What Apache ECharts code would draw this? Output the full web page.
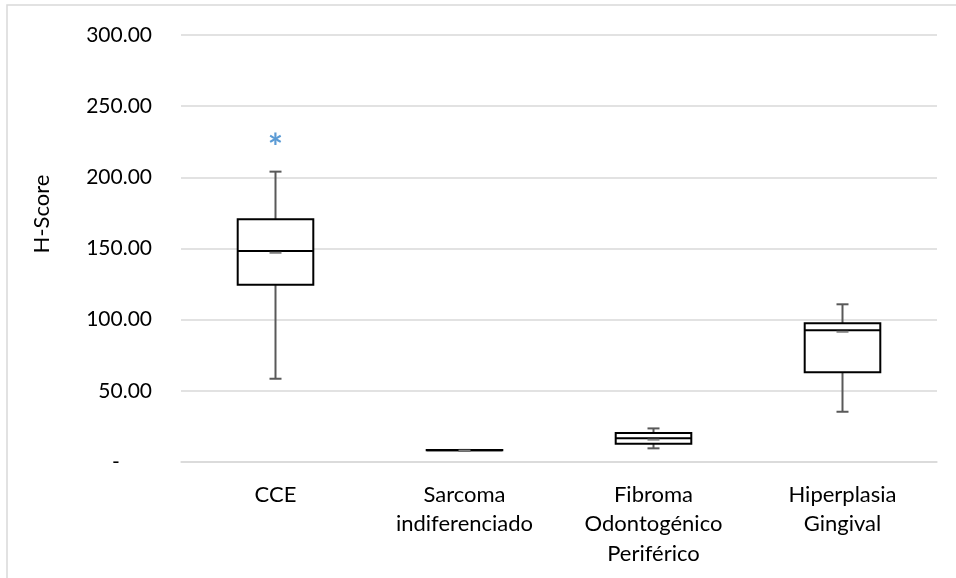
<!DOCTYPE html>
<html>
<head>
<meta charset="utf-8">
<script src="https://cdn.jsdelivr.net/npm/echarts@6/dist/echarts.min.js"></script>
<style>
  html, body { margin: 0; padding: 0; background: #fff; }
  #main { width: 956px; height: 578px; }
</style>
</head>
<body>
<div id="main"></div>
<script>
// categorias y valores
var categories = ['CCE', 'Sarcoma\nindiferenciado', 'Fibroma\nOdontogénico\nPeriférico', 'Hiperplasia\nGingival'];
var mins    = [58.5, 8.0, 9.6, 35.3];
var q1s     = [124.6, 8.2, 12.9, 63.0];
var medians = [148.2, 8.3, 16.6, 92.5];
var q3s     = [170.5, 8.4, 20.4, 97.4];
var maxs    = [204.0, 8.5, 23.6, 110.8];
var means   = [147.0, 8.0, 15.7, 91.5];
var outliers = [[0, 224.3]];

var font = 'Lato, sans-serif';

var boxData = categories.map(function (c, i) {
    return [i, mins[i], q1s[i], medians[i], q3s[i], maxs[i], means[i]];
});

var myChart = echarts.init(document.getElementById('main'));

function renderBox(params, api) {
    var idx = api.value(0);
    var pMin = api.coord([idx, api.value(1)]);
    var pQ1 = api.coord([idx, api.value(2)]);
    var pMed = api.coord([idx, api.value(3)]);
    var pQ3 = api.coord([idx, api.value(4)]);
    var pMax = api.coord([idx, api.value(5)]);
    var pMean = api.coord([idx, api.value(6)]);
    var x = pMed[0];
    var halfW = api.size([1, 0])[0] * 0.2;
    var capW = 6;
    var gray = { stroke: '#595959', lineWidth: 2 };
    return {
        type: 'group',
        children: [
            { type: 'line', shape: { x1: x, y1: pQ3[1], x2: x, y2: pMax[1] }, style: gray },
            { type: 'line', shape: { x1: x - capW, y1: pMax[1], x2: x + capW, y2: pMax[1] }, style: gray },
            { type: 'line', shape: { x1: x, y1: pQ1[1], x2: x, y2: pMin[1] }, style: gray },
            { type: 'line', shape: { x1: x - capW, y1: pMin[1], x2: x + capW, y2: pMin[1] }, style: gray },
            {
                type: 'rect',
                shape: { x: x - halfW, y: pQ3[1], width: halfW * 2, height: pQ1[1] - pQ3[1] },
                style: { fill: '#fff', stroke: '#000', lineWidth: 2 }
            },
            { type: 'line', shape: { x1: x - halfW, y1: pMed[1], x2: x + halfW, y2: pMed[1] }, style: { stroke: '#000', lineWidth: 2 } },
            { type: 'line', shape: { x1: x - capW, y1: pMean[1], x2: x + capW, y2: pMean[1] }, style: { stroke: '#7f7f7f', lineWidth: 2 } }
        ]
    };
}

function renderOutlier(params, api) {
    var p = api.coord([api.value(0), api.value(1)]);
    return {
        type: 'text',
        x: p[0],
        y: p[1] + 6,
        style: {
            text: '*',
            fill: '#5B9BD5',
            font: 'bold 36px ' + font,
            align: 'center',
            verticalAlign: 'middle'
        }
    };
}

myChart.setOption({
    animation: false,
    backgroundColor: '#fff',
    grid: {
        left: 181,
        right: 19,
        top: 35,
        bottom: 116
    },
    graphic: [
        {
            type: 'rect',
            shape: { x: 7, y: 5, width: 1000, height: 1000 },
            style: { fill: 'none', stroke: '#d9d9d9', lineWidth: 1.5 },
            silent: true
        },
        {
            type: 'text',
            x: 42,
            y: 214,
            rotation: Math.PI / 2,
            style: {
                text: 'H-Score',
                font: '22px ' + font,
                fill: '#000',
                align: 'center',
                verticalAlign: 'middle'
            }
        }
    ],
    xAxis: {
        type: 'category',
        data: categories,
        axisLine: { lineStyle: { color: '#d9d9d9', width: 1.5 } },
        axisTick: { show: false },
        axisLabel: {
            color: '#000',
            fontFamily: 'Lato',
            fontSize: 22,
            lineHeight: 29.5,
            margin: 18,
            verticalAlign: 'top'
        }
    },
    yAxis: {
        type: 'value',
        min: 0,
        max: 300,
        interval: 50,
        axisLine: { show: false },
        axisTick: { show: false },
        splitLine: { lineStyle: { color: '#d9d9d9', width: 1.5 } },
        axisLabel: {
            color: '#000',
            fontFamily: 'Lato',
            fontSize: 21,
            margin: 29,
            formatter: function (v) {
                return v === 0 ? '-      ' : v.toFixed(2);
            }
        }
    },
    series: [
        {
            type: 'custom',
            renderItem: renderBox,
            data: boxData,
            encode: { x: 0, y: [1, 2, 3, 4, 5] }
        },
        {
            type: 'custom',
            renderItem: renderOutlier,
            data: outliers,
            encode: { x: 0, y: 1 }
        }
    ]
});
</script>
</body>
</html>
